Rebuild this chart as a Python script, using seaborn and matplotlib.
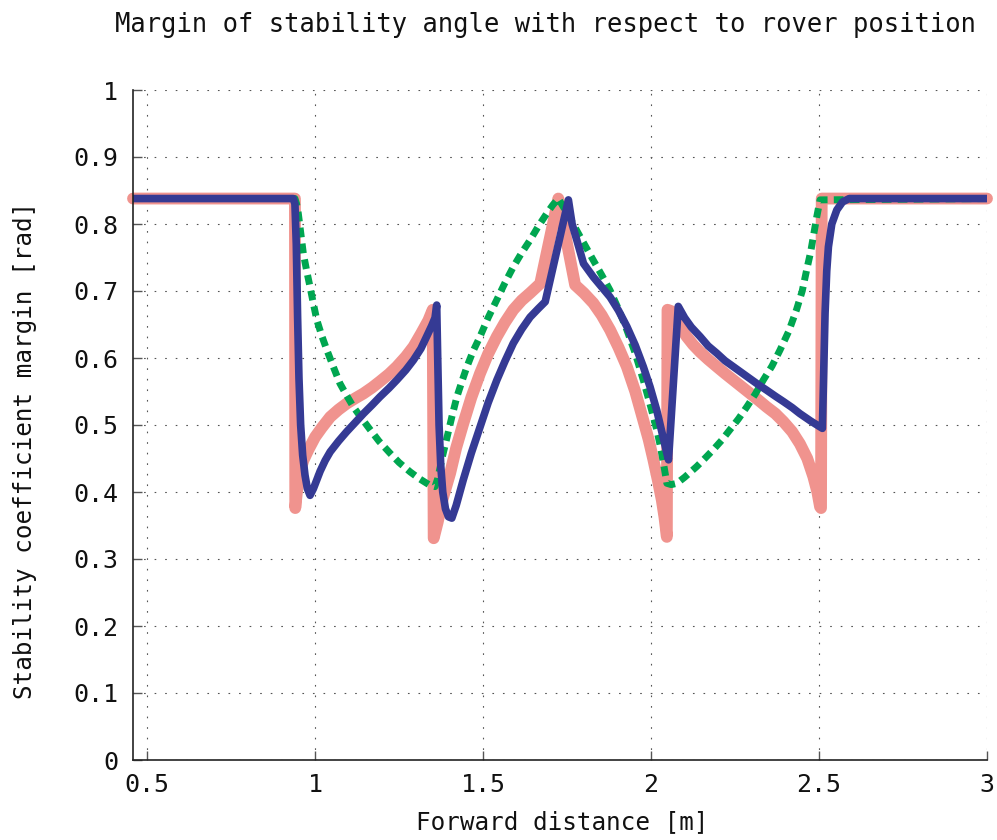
import matplotlib
matplotlib.use("Agg")
import matplotlib.pyplot as plt
import seaborn as sns

# Curvas (distância [m], margem [rad])
pink_x = [0.458, 0.940, 0.941, 0.946, 0.955, 0.965, 0.980, 1.000, 1.020, 1.045,
          1.070, 1.094, 1.120, 1.144, 1.170, 1.193, 1.220, 1.243, 1.270, 1.293,
          1.315, 1.337, 1.350, 1.353, 1.365, 1.380, 1.402, 1.420, 1.441, 1.465,
          1.491, 1.515, 1.541, 1.565, 1.590, 1.615, 1.640, 1.655, 1.670, 1.724,
          1.774, 1.800, 1.828, 1.853, 1.878, 1.903, 1.928, 1.953, 1.977, 1.993,
          2.007, 2.020, 2.032, 2.040, 2.047, 2.049, 2.060, 2.070, 2.085, 2.106,
          2.125, 2.146, 2.170, 2.196, 2.220, 2.245, 2.270, 2.295, 2.320, 2.344,
          2.370, 2.394, 2.420, 2.443, 2.465, 2.483, 2.495, 2.503, 2.506, 2.508,
          3.000]
pink_y = [0.838, 0.838, 0.376, 0.400, 0.430, 0.447, 0.463, 0.482, 0.496, 0.512,
          0.523, 0.532, 0.540, 0.547, 0.556, 0.565, 0.576, 0.587, 0.602, 0.617,
          0.636, 0.656, 0.672, 0.331, 0.355, 0.390, 0.428, 0.466, 0.502, 0.541,
          0.577, 0.606, 0.632, 0.653, 0.672, 0.686, 0.697, 0.704, 0.711, 0.838,
          0.709, 0.697, 0.682, 0.664, 0.642, 0.616, 0.587, 0.550, 0.507, 0.478,
          0.448, 0.418, 0.388, 0.362, 0.333, 0.672, 0.670, 0.662, 0.648, 0.632,
          0.620, 0.609, 0.598, 0.587, 0.577, 0.567, 0.557, 0.547, 0.537, 0.527,
          0.517, 0.505, 0.490, 0.472, 0.450, 0.423, 0.400, 0.378, 0.376, 0.838,
          0.838]

blue_x = [0.458, 0.935, 0.940, 0.944, 0.948, 0.952, 0.957, 0.963, 0.970, 0.977,
          0.985, 0.995, 1.005, 1.015, 1.030, 1.045, 1.070, 1.094, 1.120, 1.144,
          1.170, 1.193, 1.220, 1.243, 1.270, 1.293, 1.315, 1.332, 1.347, 1.357,
          1.362, 1.365, 1.369, 1.374, 1.380, 1.388, 1.397, 1.407, 1.420, 1.441,
          1.465, 1.491, 1.515, 1.541, 1.565, 1.590, 1.615, 1.640, 1.665, 1.685,
          1.754, 1.765, 1.779, 1.799, 1.828, 1.853, 1.878, 1.903, 1.928, 1.953,
          1.977, 1.997, 2.017, 2.032, 2.047, 2.052, 2.081, 2.100, 2.120, 2.146,
          2.170, 2.196, 2.220, 2.245, 2.270, 2.295, 2.320, 2.344, 2.370, 2.394,
          2.420, 2.443, 2.475, 2.510, 2.514, 2.518, 2.523, 2.528, 2.538, 2.553,
          2.570, 2.590, 3.000]
blue_y = [0.838, 0.838, 0.830, 0.770, 0.660, 0.570, 0.500, 0.455, 0.425, 0.405,
          0.395, 0.405, 0.418, 0.431, 0.447, 0.460, 0.476, 0.490, 0.504, 0.517,
          0.530, 0.542, 0.555, 0.567, 0.582, 0.597, 0.614, 0.632, 0.648, 0.660,
          0.679, 0.600, 0.500, 0.440, 0.400, 0.375, 0.363, 0.361, 0.380, 0.418,
          0.458, 0.497, 0.533, 0.567, 0.595, 0.622, 0.643, 0.661, 0.674, 0.684,
          0.836, 0.800, 0.776, 0.741, 0.721, 0.706, 0.691, 0.671, 0.647, 0.619,
          0.587, 0.557, 0.522, 0.490, 0.458, 0.448, 0.677, 0.660, 0.646, 0.632,
          0.618, 0.607, 0.596, 0.587, 0.578, 0.569, 0.560, 0.552, 0.543, 0.535,
          0.526, 0.517, 0.506, 0.495, 0.580, 0.667, 0.730, 0.766, 0.800, 0.821,
          0.833, 0.838, 0.838]

green_x = [0.458, 0.940, 0.945, 0.950, 0.957, 0.965, 0.975, 0.985, 0.995, 1.005,
           1.020, 1.035, 1.055, 1.074, 1.094, 1.114, 1.140, 1.164, 1.190, 1.223,
           1.250, 1.283, 1.310, 1.342, 1.357, 1.365, 1.380, 1.392, 1.407, 1.422,
           1.437, 1.452, 1.470, 1.491, 1.515, 1.541, 1.565, 1.590, 1.615, 1.640,
           1.665, 1.690, 1.707, 1.724, 1.755, 1.789, 1.808, 1.828, 1.853, 1.878,
           1.903, 1.928, 1.953, 1.977, 1.997, 2.017, 2.027, 2.037, 2.047, 2.060,
           2.077, 2.100, 2.136, 2.160, 2.185, 2.210, 2.235, 2.260, 2.285, 2.310,
           2.334, 2.360, 2.384, 2.410, 2.433, 2.450, 2.463, 2.475, 2.483, 2.493,
           2.503, 3.000]
green_y = [0.838, 0.838, 0.830, 0.816, 0.788, 0.756, 0.730, 0.706, 0.681, 0.657,
           0.633, 0.612, 0.586, 0.562, 0.544, 0.527, 0.509, 0.493, 0.476, 0.458,
           0.444, 0.430, 0.420, 0.410, 0.408, 0.420, 0.455, 0.480, 0.512, 0.542,
           0.565, 0.587, 0.610, 0.632, 0.660, 0.687, 0.712, 0.736, 0.757, 0.776,
           0.797, 0.816, 0.828, 0.838, 0.812, 0.781, 0.764, 0.746, 0.724, 0.701,
           0.673, 0.642, 0.607, 0.567, 0.531, 0.493, 0.470, 0.443, 0.413, 0.411,
           0.413, 0.422, 0.438, 0.450, 0.463, 0.477, 0.493, 0.509, 0.527, 0.546,
           0.567, 0.588, 0.612, 0.640, 0.672, 0.700, 0.731, 0.758, 0.781, 0.810,
           0.836, 0.838]

x_ticks = [0.5, 1, 1.5, 2, 2.5, 3]
x_tick_labels = ["0.5", "1", "1.5", "2", "2.5", "3"]
y_ticks = [0, 0.1, 0.2, 0.3, 0.4, 0.5, 0.6, 0.7, 0.8, 0.9, 1]
y_tick_labels = ["0", "0.1", "0.2", "0.3", "0.4", "0.5", "0.6", "0.7", "0.8", "0.9", "1"]

sns.set_style("white")
plt.rcParams["font.family"] = ["DejaVu Sans Mono", "DejaVu Sans"]

fig = plt.figure(figsize=(9.97, 8.4), dpi=100)
ax = fig.add_axes([133 / 997, 80 / 840, 854 / 997, 670 / 840])

# Ordem: rosa embaixo, verde pontilhado no meio, azul por cima
sns.lineplot(x=pink_x, y=pink_y, ax=ax, color="#F0938E", linewidth=8.5,
             sort=False, estimator=None, clip_on=False)
sns.lineplot(x=green_x, y=green_y, ax=ax, color="#00A650", linewidth=5,
             sort=False, estimator=None, linestyle=(0, (1.4, 0.9)))
sns.lineplot(x=blue_x, y=blue_y, ax=ax, color="#353A94", linewidth=5.5,
             sort=False, estimator=None)

ax.set_xlim(0.458, 3.0)
ax.set_ylim(0, 1)
ax.set_xticks(x_ticks)
ax.set_xticklabels(x_tick_labels)
ax.set_yticks(y_ticks)
ax.set_yticklabels(y_tick_labels)

ax.grid(True, color="#555555", linestyle=(0, (1.5, 8)), linewidth=0.8)
for side in ["top", "right"]:
    ax.spines[side].set_visible(False)
for side in ["left", "bottom"]:
    ax.spines[side].set_color("#222222")
    ax.spines[side].set_linewidth(1.2)

ax.tick_params(axis="both", direction="in", length=6.5, width=1, color="#555555",
               labelsize=18, labelcolor="#111111")
ax.tick_params(axis="y", pad=10.5)
ax.tick_params(axis="x", pad=9.5)
ax.tick_params(left=True, bottom=True)

fig.text(545 / 997, 1 - 25 / 840, "Margin of stability angle with respect to rover position",
         ha="center", va="center", fontsize=18.4, color="#111111")
fig.text(562 / 997, 1 - 822 / 840, "Forward distance [m]",
         ha="center", va="center", fontsize=17.5, color="#111111")
fig.text(25 / 997, 1 - 450 / 840, "Stability coefficient margin [rad]",
         ha="center", va="center", rotation=90, fontsize=17.5, color="#111111")

fig.savefig("out.png", dpi=100)
